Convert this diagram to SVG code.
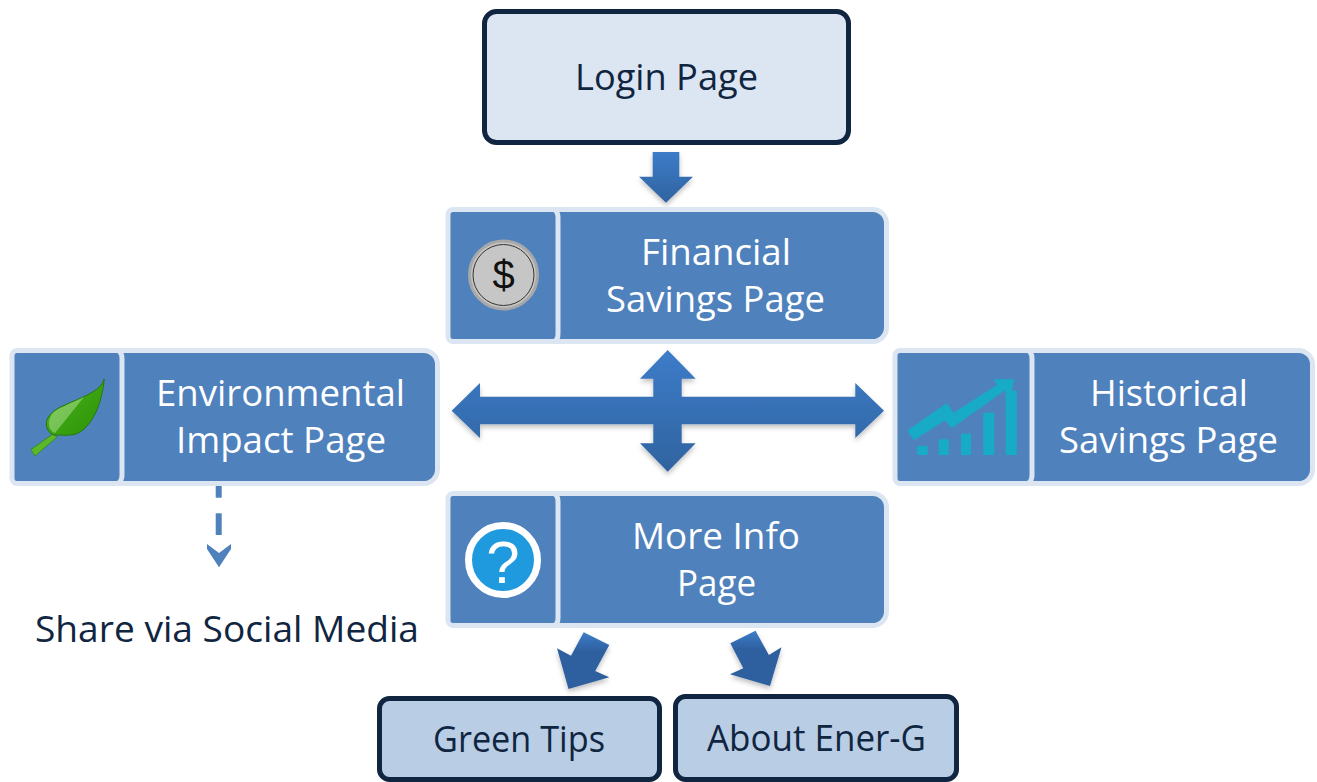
<svg xmlns="http://www.w3.org/2000/svg" width="1317" height="782" viewBox="0 0 1317 782">
<style>
text{font-family:"Open Sans","Noto Sans","Liberation Sans",sans-serif;font-size:36px;text-anchor:middle}
.w{fill:#fff}
.d{fill:#10253f}
.card{fill:#4f81bd;stroke:#dce6f2;stroke-width:5}
.div{fill:none;stroke:#dce6f2;stroke-width:5}
.box{stroke:#10253f;stroke-width:5}
.arrow{fill:url(#ag);filter:url(#sh)}
.lower{fill:url(#lg);filter:url(#sh)}
.bar{fill:#17abc7}
</style>
<defs>
<linearGradient id="ag" x1="0" y1="0" x2="0" y2="1"><stop offset="0" stop-color="#3d7cc9"/><stop offset="1" stop-color="#2f639f"/></linearGradient>
<linearGradient id="lg" x1="0" y1="0" x2="0" y2="1"><stop offset="0" stop-color="#3d7cc9"/><stop offset="0.35" stop-color="#2d5f9e"/><stop offset="1" stop-color="#2d5f9e"/></linearGradient>
<linearGradient id="leaf" x1="0" y1="0" x2="1" y2="1"><stop offset="0" stop-color="#5fb835"/><stop offset="0.5" stop-color="#3ba312"/><stop offset="1" stop-color="#2c9405"/></linearGradient>
<filter id="sh" x="-15%" y="-15%" width="130%" height="135%"><feDropShadow dx="0" dy="3" stdDeviation="2.5" flood-color="#000" flood-opacity="0.25"/></filter>
</defs>
<g id="connectors">
<polygon class="arrow" points="652.7,152 679.3,152 679.3,176.7 693,176.7 666,202.7 639,176.7 652.7,176.7"/>
<polygon class="arrow" points="451.7,410.7 480,383 480,396.7 653.3,396.7 653.3,378.7 640,378.7 667.7,350 695.7,378.7 681.7,378.7 681.7,396.7 855.3,396.7 855.3,383 884,410.7 855.3,438 855.3,424.3 681.7,424.3 681.7,443.3 695.7,443.3 667.7,471.7 640,443.3 653.3,443.3 653.3,424.3 480,424.3 480,438"/>
<polygon class="lower" points="583.7,632.3 609.3,645 595.2,671 609.3,677.3 568.5,689 557,648.3 571,655.7"/>
<polygon class="lower" points="755.5,630.7 768.9,655 781.5,647.3 770,686 730,674.3 743.3,668.3 730.3,643.3"/>
<g fill="#4f81bd">
<rect x="215.7" y="486" width="6" height="11.7"/>
<rect x="215.7" y="513.3" width="6" height="21.7"/>
<polygon points="207,544 219,553 231,544 231,549 219,567.3 207,549"/>
</g>
</g>
<g id="login"><rect class="box" x="484.5" y="11.5" width="364" height="131" rx="12" fill="#dce6f2"/><text class="d" x="666.5" y="90" textLength="183" lengthAdjust="spacingAndGlyphs">Login Page</text></g>
<g id="financial">
<path class="card" d="M453,209.500H872a14,14 0 0 1 14.500,14.500V327a14,14 0 0 1 -14.500,14.500H453a5,5 0 0 1 -5,-5V214.500a5,5 0 0 1 5,-5Z"/>
<path class="div" d="M554,209.500q4,2 4,8V334q0,6 -4,7.500"/>
<circle cx="503.500" cy="275" r="34" fill="#c6c6c6" stroke="#a8a8a8" stroke-width="3"/>
<circle cx="503.500" cy="275" r="30.500" fill="none" stroke="#333" stroke-width="1"/>
<text x="503.500" y="289" style="font-family:'Liberation Sans',sans-serif;font-size:40px" fill="#111">$</text>
<text class="w" x="716" y="265" textLength="150" lengthAdjust="spacingAndGlyphs">Financial</text>
<text class="w" x="715.500" y="312" textLength="219" lengthAdjust="spacingAndGlyphs">Savings Page</text>
</g>
<g id="environmental">
<path class="card" d="M17,350.500H423a14,14 0 0 1 14.500,14.500V469a14,14 0 0 1 -14.500,14.500H17a5,5 0 0 1 -5,-5V355.500a5,5 0 0 1 5,-5Z"/>
<path class="div" d="M118,350.500q4,2 4,8V475q0,6 -4,8.500"/>
<path d="M31,449.500L53,434 57,437 35,456Z" fill="#5cb82a" stroke="#2f8a10" stroke-width="0.800"/>
<path d="M104.300,379C100,392 82,397 65,405 50,411 44,420 47,428 49,433 52,435 55,435 66,435 76,437 84,429 96,418 102,400 104.300,379Z" fill="url(#leaf)" stroke="#237a08" stroke-width="1"/>
<path d="M55,433C48,430 47,422 52,414 57,408 70,404 84,397Z" fill="#a9dc8e" opacity="0.55"/>
<text class="w" x="280.500" y="406" textLength="249" lengthAdjust="spacingAndGlyphs">Environmental</text>
<text class="w" x="281" y="453" textLength="210" lengthAdjust="spacingAndGlyphs">Impact Page</text>
</g>
<g id="historical">
<path class="card" d="M900,350.500H1298a14,14 0 0 1 14.500,14.500V469a14,14 0 0 1 -14.500,14.500H900a5,5 0 0 1 -5,-5V355.500a5,5 0 0 1 5,-5Z"/>
<path class="div" d="M1028,350.500q4,2 4,8V475q0,6 -4,8.500"/>
<g class="bar">
<rect x="917.300" y="446" width="10.400" height="9"/>
<rect x="938.700" y="439.300" width="10" height="15.700"/>
<rect x="961" y="433.700" width="10" height="21.300"/>
<rect x="983.300" y="412.700" width="11" height="42.300"/>
<rect x="1005.700" y="390.700" width="11" height="64.300"/>
<polygon points="908.300,430.700 946.700,404 953.300,414 998.300,385 995,380 1013.300,380 1010,395 1005,389.300 951.700,427.300 945,419.300 914,439.300" stroke="#17abc7" stroke-width="1.500" stroke-linejoin="round"/>
</g>
<text class="w" x="1169" y="406" textLength="158" lengthAdjust="spacingAndGlyphs">Historical</text>
<text class="w" x="1168.500" y="453" textLength="219" lengthAdjust="spacingAndGlyphs">Savings Page</text>
</g>
<g id="moreinfo">
<path class="card" d="M453,493.500H872a14,14 0 0 1 14.500,14.500V611a14,14 0 0 1 -14.500,14.500H453a5,5 0 0 1 -5,-5V498.500a5,5 0 0 1 5,-5Z"/>
<path class="div" d="M554,493.500q4,2 4,8V618q0,6 -4,7.500"/>
<circle cx="503" cy="560" r="34.500" fill="#1f9ade" stroke="#fff" stroke-width="7"/>
<text class="w" x="503" y="583" style="font-family:'Liberation Sans',sans-serif;font-size:60px">?</text>
<text class="w" x="716" y="549" textLength="168" lengthAdjust="spacingAndGlyphs">More Info</text>
<text class="w" x="716.500" y="596" textLength="79" lengthAdjust="spacingAndGlyphs">Page</text>
</g>
<g id="share"><text class="d" x="227" y="642" textLength="384" lengthAdjust="spacingAndGlyphs">Share via Social Media</text></g>
<g id="greentips"><rect class="box" x="379.500" y="698.500" width="280" height="81" rx="10" fill="#b9cde5"/><text class="d" x="519" y="752" textLength="172" lengthAdjust="spacingAndGlyphs">Green Tips</text></g>
<g id="about"><rect class="box" x="675.500" y="696.500" width="281" height="83" rx="10" fill="#b9cde5"/><text class="d" x="816.500" y="751" textLength="219" lengthAdjust="spacingAndGlyphs">About Ener-G</text></g>
</svg>
